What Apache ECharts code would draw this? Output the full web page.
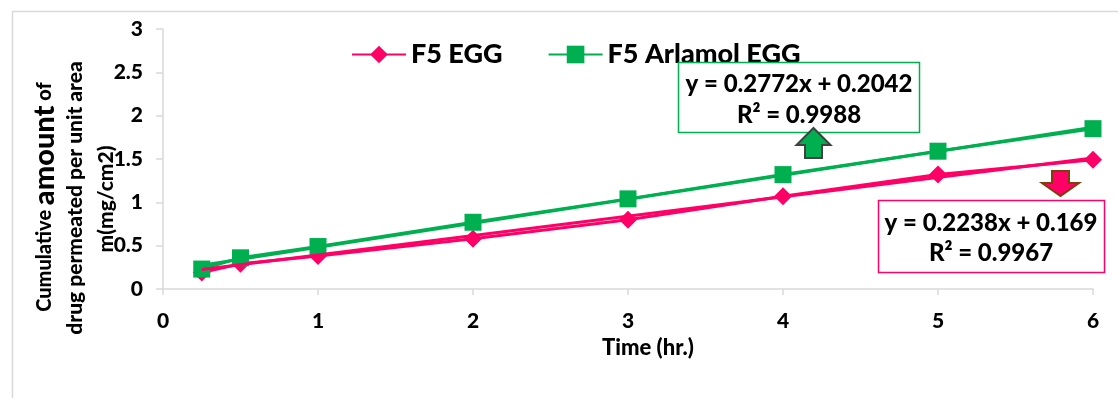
<!DOCTYPE html>
<html>
<head>
<meta charset="utf-8">
<script src="https://cdn.jsdelivr.net/npm/echarts@6/dist/echarts.min.js"></script>
<style>
  html, body { margin: 0; padding: 0; background: #ffffff; }
  #chart { width: 1118px; height: 398px; }
</style>
</head>
<body>
<div id="chart"></div>
<script>
// Sampling times (hr.)
const timeHr = [0.25, 0.5, 1, 2, 3, 4, 5, 6];
// Cumulative amount permeated per unit area (mg/cm2)
const f5Egg = [0.19, 0.29, 0.38, 0.58, 0.80, 1.07, 1.32, 1.49];
const f5ArlamolEgg = [0.23, 0.36, 0.49, 0.77, 1.04, 1.32, 1.59, 1.85];
// Linear trendline fits: slope, intercept, R²
const fitEgg = { slope: 0.2238, intercept: 0.169, r2: '0.9967' };
const fitArlamol = { slope: 0.2772, intercept: 0.2042, r2: '0.9988' };
const trendRange = [0.25, 6];
// Axis ticks
const xTicks = [0, 1, 2, 3, 4, 5, 6];
const yTicks = [0, 0.5, 1, 1.5, 2, 2.5, 3];

const PINK = '#ff0066';
const GREEN = '#00b050';
const FONT = 'Lato, "Open Sans", sans-serif';
const W = 900;

const pair = (xs, ys) => xs.map((x, i) => [x, ys[i]]);
const trend = fit => trendRange.map(x => [x, +(fit.slope * x + fit.intercept).toFixed(4)]);
const eqText = fit => 'y = ' + fit.slope + 'x + ' + fit.intercept;

const chart = echarts.init(document.getElementById('chart'), null, { renderer: 'canvas' });

const axisLabel = { color: '#000', fontFamily: FONT, fontWeight: W, fontSize: 21 };
const axisLine = { show: true, lineStyle: { color: '#d9d9d9', width: 1.5 } };

chart.setOption({
  backgroundColor: '#ffffff',
  animation: false,
  grid: { left: 163, right: 25, top: 29, bottom: 109 },
  legend: {
    data: ['F5 EGG', 'F5 Arlamol EGG'],
    left: 346,
    top: 36,
    itemWidth: 54,
    itemHeight: 22,
    itemGap: 45,
    textStyle: { fontFamily: FONT, fontWeight: W, fontSize: 27, color: '#000' }
  },
  xAxis: {
    type: 'value',
    min: xTicks[0],
    max: xTicks[xTicks.length - 1],
    interval: 1,
    axisLine: axisLine,
    axisTick: { show: true, length: 6, lineStyle: { color: '#d9d9d9', width: 1.5 } },
    splitLine: { show: false },
    axisLabel: Object.assign({ margin: 22 }, axisLabel),
    name: 'Time (hr.)',
    nameLocation: 'middle',
    nameGap: 37,
    nameTextStyle: { fontFamily: FONT, fontWeight: W, fontSize: 22, color: '#000', padding: [0, 0, 0, 40] }
  },
  yAxis: {
    type: 'value',
    min: yTicks[0],
    max: yTicks[yTicks.length - 1],
    interval: 0.5,
    axisLine: axisLine,
    axisTick: { show: true, length: 7, lineStyle: { color: '#d9d9d9', width: 1.5 } },
    splitLine: { show: false },
    axisLabel: Object.assign({ margin: 20 }, axisLabel)
  },
  series: [
    {
      name: 'F5 EGG',
      type: 'line',
      data: pair(timeHr, f5Egg),
      symbol: 'diamond',
      symbolSize: 18,
      itemStyle: { color: PINK },
      lineStyle: { color: PINK, width: 3 },
      z: 2
    },
    {
      name: 'F5 Arlamol EGG',
      type: 'line',
      data: pair(timeHr, f5ArlamolEgg),
      symbol: 'rect',
      symbolSize: 17,
      itemStyle: { color: GREEN, borderRadius: 2 },
      lineStyle: { color: GREEN, width: 3 },
      z: 3
    },
    {
      name: 'Arlamol trend',
      type: 'line',
      data: trend(fitArlamol),
      symbol: 'none',
      silent: true,
      lineStyle: { color: GREEN, width: 3 },
      z: 4
    },
    {
      name: 'EGG trend',
      type: 'line',
      data: trend(fitEgg),
      symbol: 'none',
      silent: true,
      lineStyle: { color: PINK, width: 3 },
      z: 5
    }
  ],
  graphic: [
    // chart area frame
    { type: 'rect', shape: { x: 12.5, y: 11.5, width: 1200, height: 500 },
      style: { fill: 'none', stroke: '#d9d9d9', lineWidth: 1.5 }, silent: true, z: -1 },

    // vertical axis title, three rotated lines
    { type: 'text', x: 45, y: 197, rotation: Math.PI / 2,
      style: {
        text: '{a|Cumulative }{b|amount}{a| of}',
        align: 'center', verticalAlign: 'middle',
        rich: {
          a: { fontFamily: FONT, fontWeight: W, fontSize: 20, fill: '#000' },
          b: { fontFamily: FONT, fontWeight: W, fontSize: 29, fill: '#000' }
        }
      } },
    { type: 'text', x: 75, y: 198, rotation: Math.PI / 2,
      style: { text: 'drug permeated per unit area', align: 'center', verticalAlign: 'middle',
        fontFamily: FONT, fontWeight: W, fontSize: 21, fill: '#000' } },
    { type: 'text', x: 106, y: 199, rotation: Math.PI / 2,
      style: { text: 'm(mg/cm2)', align: 'center', verticalAlign: 'middle',
        fontFamily: FONT, fontWeight: W, fontSize: 21, fill: '#000' } },

    // F5 Arlamol EGG fit box
    { type: 'rect', shape: { x: 678.5, y: 62.5, width: 241, height: 70 },
      style: { fill: '#ffffff', stroke: GREEN, lineWidth: 1.5 }, z: 10 },
    { type: 'text', x: 799, y: 84, z: 11,
      style: { text: eqText(fitArlamol), align: 'center', verticalAlign: 'middle',
        fontFamily: FONT, fontWeight: W, fontSize: 24, fill: '#000' } },
    { type: 'text', x: 799, y: 115, z: 11,
      style: { text: 'R² = ' + fitArlamol.r2, align: 'center', verticalAlign: 'middle',
        fontFamily: FONT, fontWeight: W, fontSize: 24, fill: '#000' } },
    { type: 'polygon', z: 12,
      shape: { points: [[813.5, 128], [830.5, 145], [822, 145], [822, 158], [805, 158], [805, 145], [796.5, 145]] },
      style: { fill: GREEN, stroke: '#404040', lineWidth: 2 } },

    // F5 EGG fit box
    { type: 'rect', shape: { x: 878.5, y: 200.5, width: 226, height: 72 },
      style: { fill: '#ffffff', stroke: PINK, lineWidth: 1.5 }, z: 10 },
    { type: 'text', x: 991, y: 223, z: 11,
      style: { text: eqText(fitEgg), align: 'center', verticalAlign: 'middle',
        fontFamily: FONT, fontWeight: W, fontSize: 24, fill: '#000' } },
    { type: 'text', x: 991, y: 253, z: 11,
      style: { text: 'R² = ' + fitEgg.r2, align: 'center', verticalAlign: 'middle',
        fontFamily: FONT, fontWeight: W, fontSize: 24, fill: '#000' } },
    { type: 'polygon', z: 12,
      shape: { points: [[1052, 171], [1069, 171], [1069, 183], [1079, 183], [1060.5, 196], [1042, 183], [1052, 183]] },
      style: { fill: PINK, stroke: '#843c0c', lineWidth: 2 } }
  ]
});
</script>
</body>
</html>
